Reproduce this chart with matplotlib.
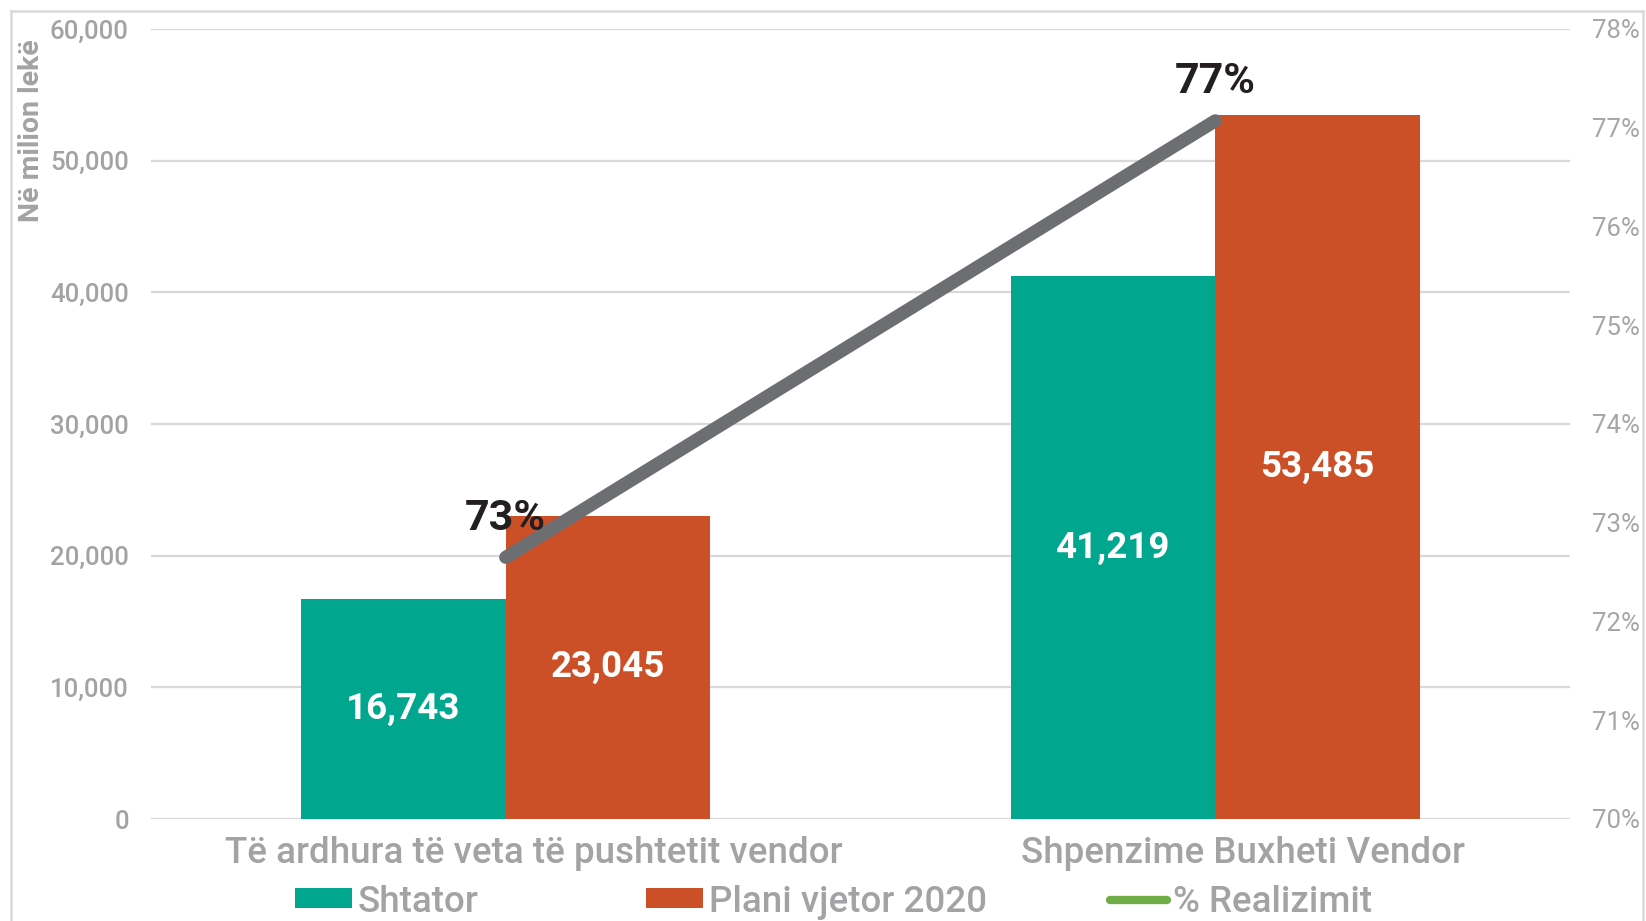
import matplotlib
matplotlib.use("Agg")
import matplotlib.pyplot as plt
import matplotlib.transforms as mtransforms
from matplotlib.lines import Line2D
from matplotlib.patches import Patch
import numpy as np

plt.rcParams['font.family'] = ['Roboto', 'DejaVu Sans']

categories = ["Të ardhura të veta të pushtetit vendor", "Shpenzime Buxheti Vendor"]
shtator = [16743, 41219]
plani = [23045, 53485]
realizimi = [0.7265, 0.7707]
realizimi_labels = ["73%", "77%"]
left_ticks = [0, 10000, 20000, 30000, 40000, 50000, 60000]
right_ticks = [0.70, 0.71, 0.72, 0.73, 0.74, 0.75, 0.76, 0.77, 0.78]
series_names = ["Shtator", "Plani vjetor 2020", "% Realizimit"]

TEAL = "#00a78e"
ORANGE = "#cb5028"
LINE = "#6d6e71"
GREEN = "#70ad47"
GRID = "#d9d9d9"
TXT = "#a3a3a6"

W, H = 1646, 921
fig = plt.figure(figsize=(W / 100, H / 100), dpi=100)
ax = fig.add_axes([151 / W, (H - 819) / H, 1419 / W, 790 / H])

x = np.arange(len(categories))
bw = 0.288
b1 = ax.bar(x - bw / 2, shtator, bw, color=TEAL, zorder=2)
b2 = ax.bar(x + bw / 2, plani, bw, color=ORANGE, zorder=2)

ax.set_xlim(-0.5, 1.5)
ax.set_ylim(0, 60000)
ax.set_yticks(left_ticks)
ax.set_yticklabels([f"{v:,}" for v in left_ticks])
ax.yaxis.grid(True, color=GRID, linewidth=1.6, zorder=0)
ax.set_axisbelow(True)
for s in ax.spines.values():
    s.set_visible(False)
ax.tick_params(axis='y', length=0, pad=16, labelsize=18.5, labelcolor=TXT)
for t in ax.get_yticklabels():
    t.set_fontweight('medium')

ax.set_xticks(x)
ax.set_xticklabels(categories)
ax.tick_params(axis='x', length=0, pad=12, labelsize=26.5, labelcolor=TXT)
offset = mtransforms.ScaledTranslation(20 / 72, 0, fig.dpi_scale_trans)
for t in ax.get_xticklabels():
    t.set_fontweight('medium')
    t.set_transform(t.get_transform() + offset)

for bars, vals in ((b1, shtator), (b2, plani)):
    for rect, v in zip(bars, vals):
        ax.text(rect.get_x() + rect.get_width() / 2, v / 2, f"{v:,}",
                ha='center', va='center', color='white', fontsize=26.5,
                fontweight='bold', zorder=5)

ax2 = ax.twinx()
ax2.set_ylim(0.70, 0.78)
ax2.set_yticks(right_ticks)
ax2.set_yticklabels([f"{round(v * 100)}%" for v in right_ticks])
for s in ax2.spines.values():
    s.set_visible(False)
ax2.tick_params(axis='y', length=0, pad=16, labelsize=18.5, labelcolor="#a6a6a6")

ax2.plot(x, realizimi, color=LINE, linewidth=9.5, solid_capstyle='round', zorder=4)
for xi, yi, lab in zip(x, realizimi, realizimi_labels):
    ax2.annotate(lab, (xi, yi), xytext=(0, 20), textcoords='offset points',
                 ha='center', va='baseline', fontsize=31, fontweight='bold',
                 color="#231f20", zorder=6)

fig.text(31.5 / W, 1 - 131 / H, "Në milion lekë", rotation=90, ha='center',
         va='center', fontsize=20.5, fontweight='bold', color=TXT)

handles = [Patch(facecolor=TEAL, edgecolor='none'),
           Patch(facecolor=ORANGE, edgecolor='none'),
           Line2D([0], [0], color=GREEN, linewidth=6, solid_capstyle='round')]
leg_x = [295, 646, 1110]
for h, name, lx in zip(handles, series_names, leg_x):
    leg = fig.legend([h], [name], loc='center left',
                     bbox_to_anchor=(lx / W, 1 - 902 / H), frameon=False,
                     fontsize=26.5, handlelength=1.55, handleheight=0.46,
                     handletextpad=0.15, borderpad=0, borderaxespad=0)
    for t in leg.get_texts():
        t.set_color(TXT)
        t.set_fontweight('medium')

# chart border
for xs, ys in (([11, 11], [H, 11]), ([11, 1643], [11, 11]), ([1643, 1643], [11, H])):
    fig.add_artist(Line2D([v / W for v in xs], [1 - v / H for v in ys],
                          color=GRID, linewidth=1.8, transform=fig.transFigure))

fig.savefig("out.png", dpi=100)
